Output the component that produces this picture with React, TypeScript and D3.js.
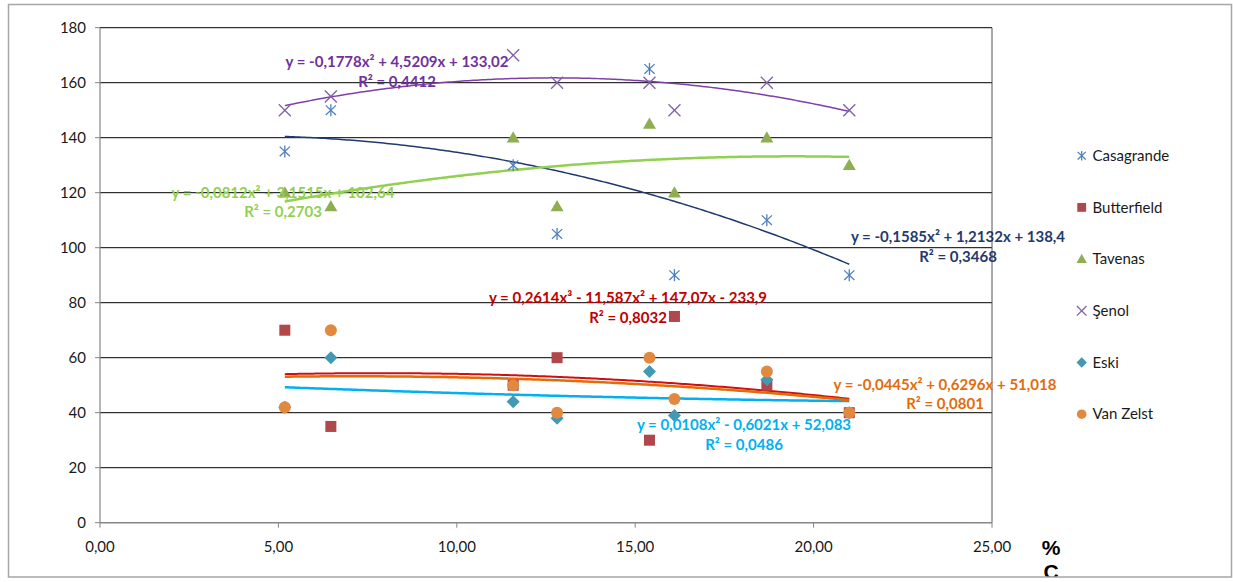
import React from "react";
import * as d3 from "d3";

// Carbon content (% C) for each sample
const xValues = [5.18, 6.47, 11.58, 12.81, 15.4, 16.1, 18.69, 21.0];

const casagrande = [135, 150, 130, 105, 165, 90, 110, 90];
const butterfield = [70, 35, 50, 60, 30, 75, 50, 40];
const tavenas = [120, 115, 140, 115, 145, 120, 140, 130];
const senol = [150, 155, 170, 160, 160, 150, 160, 150];
const eski = [42, 60, 44, 38, 55, 39, 52, 40];
const vanZelst = [42, 70, 50, 40, 60, 45, 55, 40];

const seriesNames = ["Casagrande", "Butterfield", "Tavenas", "Şenol", "Eski", "Van Zelst"];

// Trendline coefficients, lowest power first
const casagrandeTrend = [138.4, 1.2132, -0.1585];
const butterfieldTrend = [-233.9, 147.07, -11.587, 0.2614];
const tavenasTrend = [102.64, 3.1515, -0.0812];
const senolTrend = [133.02, 4.5209, -0.1778];
const eskiTrend = [52.083, -0.6021, 0.0108];
const vanZelstTrend = [51.018, 0.6296, -0.0445];

const rSquared = [0.3468, 0.8032, 0.2703, 0.4412, 0.0486, 0.0801];

const xTicks = [0, 5, 10, 15, 20, 25];
const yTicks = [0, 20, 40, 60, 80, 100, 120, 140, 160, 180];

const W = 1233;
const H = 582;
const plot = { left: 100, right: 992, top: 27.7, bottom: 522.7 };

const x = d3.scaleLinear().domain([0, 25]).range([plot.left, plot.right]);
const y = d3.scaleLinear().domain([0, 180]).range([plot.bottom, plot.top]);

const fmtNum = (v: number) => String(Math.abs(v)).replace(".", ",");
const sup = ["", "", "²", "³"];

function equation(coefs: number[]) {
  const terms: string[] = [];
  for (let p = coefs.length - 1; p >= 0; p--) {
    const c = coefs[p];
    const body = fmtNum(c) + (p === 0 ? "" : "x" + sup[p]);
    if (terms.length === 0) terms.push((c < 0 ? "-" : "") + body);
    else terms.push((c < 0 ? "- " : "+ ") + body);
  }
  return "y = " + terms.join(" ");
}

const polyVal = (coefs: number[], v: number) =>
  coefs.reduce((s, c, i) => s + c * Math.pow(v, i), 0);

// Least-squares polynomial fit (normal equations, Gaussian elimination)
function polyFit(xs: number[], ys: number[], degree: number) {
  const n = degree + 1;
  const A: number[][] = Array.from({ length: n }, () => new Array(n + 1).fill(0));
  for (let r = 0; r < n; r++) {
    for (let c = 0; c < n; c++) {
      A[r][c] = d3.sum(xs, (v) => Math.pow(v, r + c));
    }
    A[r][n] = d3.sum(xs, (v, i) => ys[i] * Math.pow(v, r));
  }
  for (let i = 0; i < n; i++) {
    let m = i;
    for (let k = i + 1; k < n; k++) if (Math.abs(A[k][i]) > Math.abs(A[m][i])) m = k;
    [A[i], A[m]] = [A[m], A[i]];
    for (let k = i + 1; k < n; k++) {
      const f = A[k][i] / A[i][i];
      for (let j = i; j <= n; j++) A[k][j] -= f * A[i][j];
    }
  }
  const out = new Array(n).fill(0);
  for (let i = n - 1; i >= 0; i--) {
    let s = A[i][n];
    for (let j = i + 1; j < n; j++) s -= A[i][j] * out[j];
    out[i] = s / A[i][i];
  }
  return out;
}

const butterfieldCurve = polyFit(xValues, butterfield, 2);

type MarkerKind = "asterisk" | "square" | "triangle" | "cross" | "diamond" | "circle";

const series = [
  { name: seriesNames[0], values: casagrande, marker: "asterisk" as MarkerKind, color: "#4F81BD", trend: casagrandeTrend, curve: casagrandeTrend, lineColor: "#1F3A6E", lineWidth: 1.5, labelColor: "#1F3A6E", r2: rSquared[0], label: { x: 958, y: 237 } },
  { name: seriesNames[1], values: butterfield, marker: "square" as MarkerKind, color: "#B0474A", trend: butterfieldTrend, curve: butterfieldCurve, lineColor: "#D01010", lineWidth: 2, labelColor: "#C00000", r2: rSquared[1], label: { x: 628, y: 298 } },
  { name: seriesNames[2], values: tavenas, marker: "triangle" as MarkerKind, color: "#8FAE52", trend: tavenasTrend, curve: tavenasTrend, lineColor: "#92D050", lineWidth: 2.5, labelColor: "#92D050", r2: rSquared[2], label: { x: 283, y: 192.5 } },
  { name: seriesNames[3], values: senol, marker: "cross" as MarkerKind, color: "#7F60A8", trend: senolTrend, curve: senolTrend, lineColor: "#7F3FA8", lineWidth: 1.5, labelColor: "#7030A0", r2: rSquared[3], label: { x: 397, y: 62 } },
  { name: seriesNames[4], values: eski, marker: "diamond" as MarkerKind, color: "#4199B3", trend: eskiTrend, curve: eskiTrend, lineColor: "#00B0F0", lineWidth: 2.5, labelColor: "#00B0F0", r2: rSquared[4], label: { x: 744, y: 425 } },
  { name: seriesNames[5], values: vanZelst, marker: "circle" as MarkerKind, color: "#E0893F", trend: vanZelstTrend, curve: vanZelstTrend, lineColor: "#E36C09", lineWidth: 2.5, labelColor: "#E36C09", r2: rSquared[5], label: { x: 945, y: 384.5 } },
];

function Marker({ kind, cx, cy, color, s }: { kind: MarkerKind; cx: number; cy: number; color: string; s: number }) {
  const h = s / 2;
  switch (kind) {
    case "asterisk":
      return (
        <g stroke={color} strokeWidth={1.3} fill="none">
          <line x1={cx} y1={cy - h} x2={cx} y2={cy + h} />
          <line x1={cx - h * 0.85} y1={cy - h * 0.8} x2={cx + h * 0.85} y2={cy + h * 0.8} />
          <line x1={cx - h * 0.85} y1={cy + h * 0.8} x2={cx + h * 0.85} y2={cy - h * 0.8} />
        </g>
      );
    case "cross":
      return (
        <g stroke={color} strokeWidth={1.3} fill="none">
          <line x1={cx - h} y1={cy - h} x2={cx + h} y2={cy + h} />
          <line x1={cx - h} y1={cy + h} x2={cx + h} y2={cy - h} />
        </g>
      );
    case "square":
      return <rect x={cx - h} y={cy - h} width={s} height={s} fill={color} />;
    case "circle":
      return <circle cx={cx} cy={cy} r={h} fill={color} />;
    case "diamond":
      return <path d={`M${cx},${cy - h}L${cx + h},${cy}L${cx},${cy + h}L${cx - h},${cy}Z`} fill={color} />;
    case "triangle": {
      const th = s * 0.87;
      return <path d={`M${cx},${cy - th * 0.58}L${cx + h},${cy + th * 0.42}L${cx - h},${cy + th * 0.42}Z`} fill={color} />;
    }
  }
}

const markerSize: Record<MarkerKind, number> = {
  asterisk: 12,
  cross: 12,
  square: 11,
  circle: 12,
  diamond: 13,
  triangle: 13,
};

export default function App() {
  const xMin = d3.min(xValues)!;
  const xMax = d3.max(xValues)!;
  const samples = d3.range(0, 201).map((i) => xMin + ((xMax - xMin) * i) / 200);
  const line = (coefs: number[]) =>
    d3
      .line<number>()
      .x((v) => x(v))
      .y((v) => y(polyVal(coefs, v)))(samples)!;

  const font = "Lato, 'Open Sans', sans-serif";
  const legendY = d3.range(seriesNames.length).map((i) => 155.7 + i * 51.7);

  return (
    <svg
      width={W}
      height={H}
      style={{ position: "absolute", left: 0, top: 0, background: "#fff" }}
      fontFamily={font}
    >
      <defs>
        <clipPath id="frame">
          <rect x={8} y={4} width={1224} height={573} />
        </clipPath>
      </defs>

      {/* horizontal gridlines */}
      {yTicks.filter((t) => t > 0).map((t) => (
        <line key={t} x1={plot.left} x2={plot.right} y1={y(t)} y2={y(t)} stroke="#000" strokeWidth={1} />
      ))}
      {/* plot area right edge */}
      <line x1={plot.right} x2={plot.right} y1={plot.top} y2={plot.bottom} stroke="#555" strokeWidth={1} />

      {/* axes */}
      <line x1={plot.left} x2={plot.left} y1={plot.top} y2={plot.bottom} stroke="#868686" strokeWidth={1.2} />
      <line x1={plot.left} x2={plot.right} y1={plot.bottom} y2={plot.bottom} stroke="#868686" strokeWidth={1.5} />
      {yTicks.map((t) => (
        <g key={t}>
          <line x1={plot.left - 5} x2={plot.left} y1={y(t)} y2={y(t)} stroke="#868686" />
          <text x={86} y={y(t)} dy="0.35em" textAnchor="end" fontSize={15} fill="#1a1a1a">
            {t}
          </text>
        </g>
      ))}
      {xTicks.map((t) => (
        <g key={t}>
          <line x1={x(t)} x2={x(t)} y1={plot.bottom} y2={plot.bottom + 5} stroke="#868686" />
          <text x={x(t)} y={551.5} textAnchor="middle" fontSize={15} fill="#1a1a1a">
            {d3.format(".2f")(t).replace(".", ",")}
          </text>
        </g>
      ))}

      {/* trendlines */}
      {series.map((s) => (
        <path key={s.name} d={line(s.curve)} fill="none" stroke={s.lineColor} strokeWidth={s.lineWidth} />
      ))}

      {/* data points */}
      {series.map((s) => (
        <g key={s.name}>
          {s.values.map((v, i) => (
            <Marker key={i} kind={s.marker} cx={x(xValues[i])} cy={y(v)} color={s.color} s={markerSize[s.marker]} />
          ))}
        </g>
      ))}

      {/* trendline equations */}
      {series.map((s) => (
        <text key={s.name} textAnchor="middle" fontSize={15} fontWeight="bold" fill={s.labelColor}>
          <tspan x={s.label.x} y={s.label.y} dy="0.35em">
            {equation(s.trend)}
          </tspan>
          <tspan x={s.label.x} y={s.label.y + 19.5} dy="0.35em">
            {"R² = " + fmtNum(s.r2)}
          </tspan>
        </text>
      ))}

      {/* legend */}
      {series.map((s, i) => (
        <g key={s.name}>
          <Marker kind={s.marker} cx={1081.7} cy={legendY[i]} color={s.color} s={markerSize[s.marker] * 0.8} />
          <text x={1092.5} y={legendY[i]} dy="0.35em" fontSize={15} fill="#1a1a1a">
            {s.name}
          </text>
        </g>
      ))}

      {/* axis title */}
      <g clipPath="url(#frame)">
        <text x={1051} y={548} dy="0.35em" textAnchor="middle" fontSize={21} fontWeight="bold" fontFamily="'Liberation Sans', Arial, sans-serif" fill="#000">
          %
        </text>
        <text x={1051} y={572} dy="0.35em" textAnchor="middle" fontSize={21} fontWeight="bold" fontFamily="'Liberation Sans', Arial, sans-serif" fill="#000">
          C
        </text>
      </g>

      {/* chart frame */}
      <rect x={8.5} y={4.5} width={1223} height={572.5} fill="none" stroke="#A6A6A6" strokeWidth={1.5} />
    </svg>
  );
}
